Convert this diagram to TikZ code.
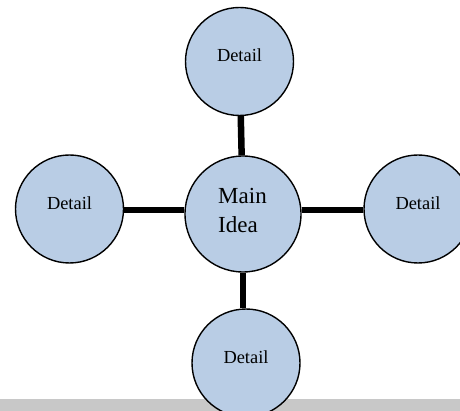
\documentclass[tikz,border=0pt]{standalone}
\usepackage{fontspec}
\setmainfont{Liberation Serif}
\definecolor{bubble}{RGB}{185,205,229}
\definecolor{barGray}{RGB}{200,200,200}
\tikzset{
  bubble/.style={circle, draw=black, line width=1.4pt, fill=bubble, inner sep=0pt, minimum size=108pt},
  mainbubble/.style={bubble, minimum size=116pt},
  conn/.style={line width=6.5pt, black},
  dtext/.style={anchor=base, inner sep=0pt, font=\fontsize{18.4}{22}\selectfont},
  mtext/.style={anchor=north west, inner sep=0pt, align=left, font=\fontsize{23}{29}\selectfont}
}
\begin{document}
\begin{tikzpicture}[x=1pt,y=-1pt]
\useasboundingbox (0,0) rectangle (460,411);
\clip (0,0) rectangle (460,411);
\fill[barGray] (0,399) rectangle (460,411);
\coordinate (hl) at (190,210);
\coordinate (hr) at (296,210);
\node[mainbubble] (main) at (243,214) {};
\node[bubble] (top) at (239.5,61.5) {};
\node[bubble] (left) at (69.5,209) {};
\node[bubble] (right) at (418,209) {};
\node[bubble] (bottom) at (246,363) {};
\draw[conn] (main) -- (top);
\draw[conn] (hl -| main.west) -- (hl -| left.east);
\draw[conn] (hr -| main.east) -- (hr -| right.west);
\draw[conn] (main.south) -- (main.south |- bottom.north);
\node[dtext] (ttop) at (239.5,62) {Detail};
\node[dtext] (tleft) at (69.5,210) {Detail};
\node[dtext] (tright) at (418,210) {Detail};
\node[dtext] (tbottom) at (246,363) {Detail};
\node[mtext] (tmain) at (218,188) {Main\\Idea};
\end{tikzpicture}
\end{document}
